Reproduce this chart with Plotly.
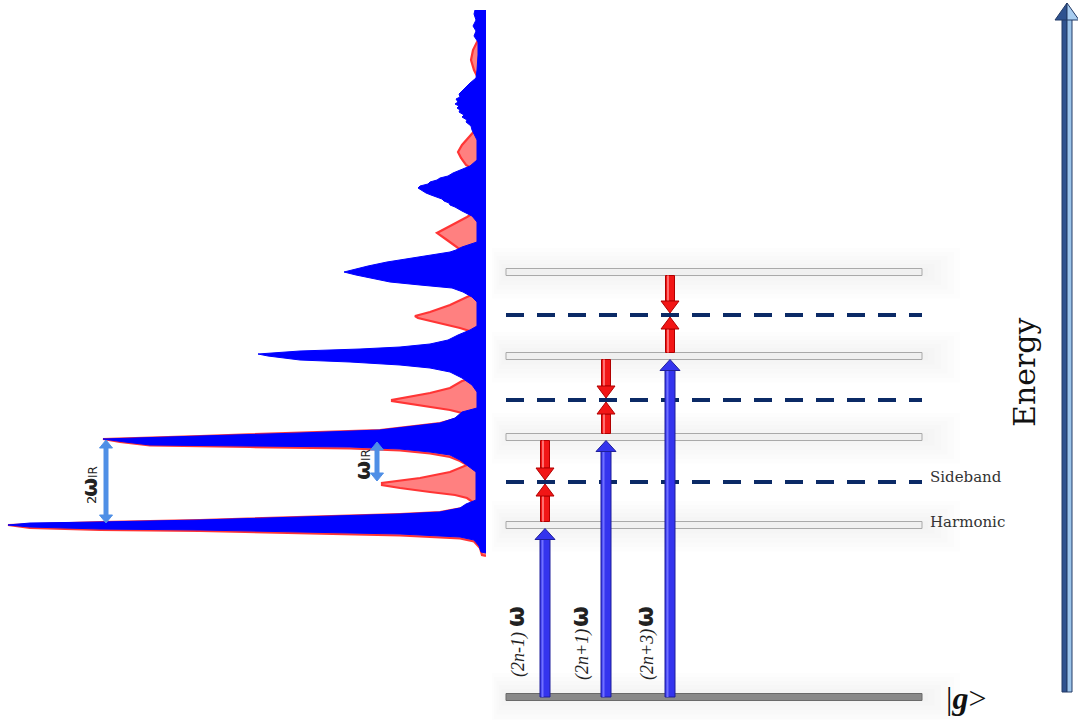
import plotly.graph_objects as go

# ---------------- DATA ----------------
# Vertical positions are on an energy scale drawn top-down (0 = top of figure, 720 = bottom)
# Photo-electron spectrum with IR dressing (blue): energy position vs. intensity
blue_E = [10, 14, 20, 26, 31, 36, 42, 55, 70, 78, 83, 86, 88, 91, 94, 97, 99, 102, 104, 106, 108,
          110, 112, 115, 117, 120, 122, 126, 130,
          140, 160, 166, 170, 173, 176, 178, 180, 182, 184, 186, 188, 191, 193, 195, 197, 199, 201,
          203, 205, 207, 211, 216, 222,
          242, 247, 250, 252, 257, 262, 266, 269, 272, 275, 278, 282, 285, 288, 292, 297, 302,
          326, 330, 335, 340, 344, 347, 349, 351, 353, 354, 356, 358, 360, 362, 365, 368, 372,
          378, 385, 392, 408, 412, 418, 423, 428, 430, 433, 436, 438, 439, 442, 445, 446, 447,
          449, 452, 455, 460, 466, 472, 500, 504, 508, 512, 514, 517, 520, 522, 523, 525, 527,
          529, 530, 532, 534, 537, 540, 546, 552, 553]
blue_I = [11, 12, 10, 13, 10, 12, 8, 8, 9, 10, 16, 19, 22, 24, 27, 26, 30, 28, 31, 27, 29,
          26, 27, 22, 24, 19, 20, 15, 14,
          9, 9, 16, 26, 33, 38, 46, 49, 56, 58, 66, 68, 63, 60, 55, 50, 44, 42,
          37, 36, 31, 24, 14, 9,
          9, 24, 30, 36, 66, 99, 118, 131, 142, 130, 114, 96, 66, 34, 23, 14, 9,
          9, 16, 28, 38, 56, 86, 126, 186, 216, 228, 218, 201, 186, 136, 86, 56, 36,
          24, 14, 9, 9, 24, 31, 46, 86, 106, 186, 286, 346, 383, 361, 336, 236, 136,
          86, 56, 36, 26, 18, 10, 10, 20, 26, 46, 86, 186, 286, 386, 456, 478, 456,
          386, 286, 186, 86, 26, 12, 7, 5, 0]

# Spectrum without IR dressing (red): harmonics plus sidebands
red_E = [36, 42, 50, 60, 70, 78, 86, 122, 128, 136, 145, 152, 158, 165, 172,
         210, 217, 225, 233, 240, 248, 254, 293, 297, 305, 312, 316, 318, 323, 328, 333,
         377, 381, 388, 393, 397, 400, 401, 404, 407, 410, 413, 416, 423, 430, 436, 439,
         442, 445.5, 447, 448.5, 450.5, 453.5, 457, 461, 465, 472, 478, 481, 483, 485,
         488, 492, 495, 498, 503, 508, 512, 514, 517, 520, 522, 525, 528, 530, 531, 533,
         535.5, 538.5, 541.5, 548, 555, 556]
red_I = [5, 9, 13, 15, 12, 8, 5, 5, 9, 16, 24, 28, 25, 20, 8,
         8, 19, 34, 49, 39, 28, 10, 10, 19, 36, 56, 71, 68, 46, 26, 10,
         10, 24, 36, 56, 76, 94, 94, 76, 56, 36, 24, 20, 46, 106, 286, 383,
         366, 336, 236, 136, 86, 56, 36, 26, 19, 36, 66, 86, 104, 104,
         86, 56, 31, 19, 12, 24, 46, 86, 186, 286, 386, 478, 456, 386, 286, 186,
         86, 26, 12, 6, 4, 0]

# Energy-level diagram
ground_level = 697
harmonic_levels = [525, 437, 356, 272]
sideband_levels = [482, 400, 315]
transition_labels = ["(2n-1)", "(2n+1)", "(2n+3)"]

# IR-photon spacing markers on the spectrum: (from, to, label prefix)
ir_marks = [(440, 523, "2"), (442, 481, "")]

# ---------------- LAYOUT CONSTANTS ----------------
W, H = 1078, 720
BASE = 486                 # pixel column of spectrum baseline
LVL_X0, LVL_X1 = 506, 922
TRANS_X = [545, 606, 670]
LABEL_X = [517, 581, 646]
IR_X = [106, 377]
IR_LABEL = [(90, 484), (363, 467)]
SERIF = "Liberation Serif"
WIDE_SERIF = "DejaVu Serif"
SANS = "DejaVu Sans"

fig = go.Figure()

# spectra (on a reversed intensity axis ending at the baseline)
fig.add_trace(go.Scatter(x=red_I, y=red_E, xaxis="x2", yaxis="y", mode="lines",
                         fill="tozerox", fillcolor="#ff8080",
                         line=dict(color="#ff3535", width=2.2), hoverinfo="skip"))
fig.add_trace(go.Scatter(x=blue_I, y=blue_E, xaxis="x2", yaxis="y", mode="lines",
                         fill="tozerox", fillcolor="#0000ff",
                         line=dict(color="#0000ff", width=1), hoverinfo="skip"))

shapes = []

def rect(x0, x1, y0, y1, fill, line="rgba(0,0,0,0)", lw=0, layer="above"):
    shapes.append(dict(type="rect", xref="x", yref="y", x0=x0, x1=x1, y0=y0, y1=y1,
                       fillcolor=fill, line=dict(color=line, width=lw), layer=layer))

def tri(xc, ybase, ytip, half, fill, line, lw=1):
    shapes.append(dict(type="path", xref="x", yref="y",
                       path=f"M {xc-half},{ybase} L {xc},{ytip} L {xc+half},{ybase} Z",
                       fillcolor=fill, line=dict(color=line, width=lw), layer="above"))

def arrow(xc, ystart, ytip, shaft_w, head_w, head_h, fill, edge, hi):
    d = 1 if ytip > ystart else -1
    ybase = ytip - d * head_h
    rect(xc - shaft_w / 2, xc + shaft_w / 2, ystart, ybase, fill, edge, 1)
    rect(xc - shaft_w / 2 + 1.5, xc - shaft_w / 2 + 3.5, ystart, ybase, hi)
    tri(xc, ybase, ytip, head_w / 2, fill, edge)

# soft (layered) shadow haze around the level bars
for lv in harmonic_levels + [ground_level]:
    for d in (4, 8, 12, 16, 20, 24):
        rect(LVL_X0 - d * 0.6, LVL_X1 + d * 1.6, lv - d, lv + d * 1.1,
             "rgba(0,0,0,0.009)", layer="below")

# harmonic levels and ground
for lv in harmonic_levels:
    rect(LVL_X0, LVL_X1, lv - 3.5, lv + 3.5, "#f0f0f0", "#a9a9a9", 1)
rect(LVL_X0, LVL_X1, ground_level - 3.5, ground_level + 3.5, "#8a8a8a", "#6a6a6a", 1)

# sideband (dashed) levels
for sb in sideband_levels:
    shapes.append(dict(type="line", xref="x", yref="y", x0=LVL_X0, x1=LVL_X1, y0=sb, y1=sb,
                       line=dict(color="#0b2a66", width=4, dash="18px,13px"), layer="above"))

# XUV photons (blue) and IR photons (red)
for i, x in enumerate(TRANS_X):
    arrow(x, ground_level, harmonic_levels[i] + 3.5, 10, 20, 11, "#3434ee", "#1f1f9a", "#7070ff")
    arrow(x, harmonic_levels[i + 1] + 3.5, sideband_levels[i] - 2, 9, 18, 12, "#f21616", "#b00000", "#ff7070")
    arrow(x, harmonic_levels[i] - 3.5, sideband_levels[i] + 2, 9, 18, 12, "#f21616", "#b00000", "#ff7070")

# IR spacing arrows on the spectrum
for (y0, y1, _), x in zip(ir_marks, IR_X):
    rect(x - 2.5, x + 2.5, y0 + 8, y1 - 8, "#4f8fe6")
    tri(x, y0 + 8, y0, 6.5, "#4f8fe6", "#4f8fe6")
    tri(x, y1 - 8, y1, 6.5, "#4f8fe6", "#4f8fe6")

# Energy axis arrow
rect(1062, 1067, 19, 692, "#2f528f", "#223a66", 1)
rect(1067, 1072, 19, 692, "#9cc4ea", "#223a66", 1)
shapes.append(dict(type="path", xref="x", yref="y", path="M 1055,20 L 1067,3 L 1067,20 Z",
                   fillcolor="#2f528f", line=dict(color="#223a66", width=1), layer="above"))
shapes.append(dict(type="path", xref="x", yref="y", path="M 1067,20 L 1067,3 L 1079,20 Z",
                   fillcolor="#a8cdf0", line=dict(color="#223a66", width=1), layer="above"))

annotations = []

def text(x, y, s, family, size, color="#222222", angle=0, xanchor="center", yanchor="middle"):
    annotations.append(dict(x=x, y=y, xref="x", yref="y", showarrow=False, textangle=angle,
                            xanchor=xanchor, yanchor=yanchor, text=s,
                            font=dict(family=family, size=size, color=color)))

# photon-energy labels: italic order + bold omega, rotated
for lab, x in zip(transition_labels, LABEL_X):
    text(x + 1, 655, f"<i>{lab}</i>", SERIF, 18, angle=-90)
    text(x - 1, 617, "<b>ω</b>", SANS, 24, angle=-90)

# IR spacing labels
for (y0, y1, pre), (lx, ly) in zip(ir_marks, IR_LABEL):
    if pre:
        text(lx + 1, ly + 16, pre, SANS, 13, angle=-90)
    text(lx - 1, ly + 4, "<b>ω</b>", SANS, 22, angle=-90)
    text(lx + 3, ly - 12, "IR", SANS, 12, angle=-90)

text(928, 477, "Sideband", WIDE_SERIF, 15, "#333333", xanchor="left")
text(928, 522, "Harmonic", WIDE_SERIF, 15, "#333333", xanchor="left")
text(944, 698, "|<b><i>g</i></b>&gt;", SERIF, 32, "#111111", xanchor="left")
text(1024, 372, "Energy", WIDE_SERIF, 30, "#111111", angle=-90)

fig.update_layout(
    width=W, height=H, margin=dict(l=0, r=0, t=0, b=0),
    paper_bgcolor="white", plot_bgcolor="white", showlegend=False,
    xaxis=dict(range=[0, W], visible=False, domain=[0, 1], fixedrange=True),
    xaxis2=dict(range=[BASE, 0], visible=False, domain=[0, BASE / W], anchor="y", fixedrange=True),
    yaxis=dict(range=[H, 0], visible=False, domain=[0, 1], fixedrange=True),
    shapes=shapes, annotations=annotations,
)

fig.write_html("out.html")
